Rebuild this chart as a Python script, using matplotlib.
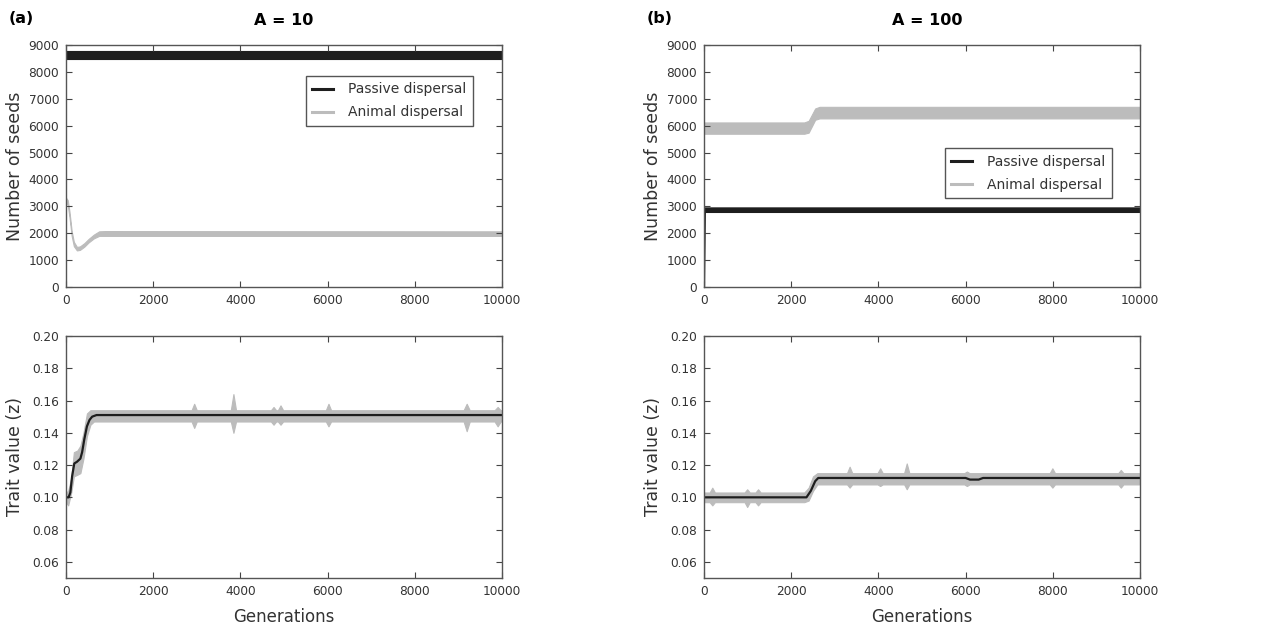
import matplotlib
matplotlib.use('Agg')
import matplotlib.pyplot as plt
from matplotlib.lines import Line2D

# %% Data (noise shown as lo/hi envelopes)
BLACK = '#1e1e1e'
GREY = '#bcbcbc'

# A = 10, number of seeds
seed_pas_a_gen = [0, 10000]
seed_pas_a_lo = [8470, 8470]
seed_pas_a_hi = [8780, 8780]

seed_ani_a_gen = [0, 40, 80, 130, 180, 250, 320, 420, 520, 640, 760, 900, 10000]
seed_ani_a_lo = [3150, 3050, 2600, 1900, 1520, 1360, 1380, 1500, 1660, 1810, 1900, 1900, 1900]
seed_ani_a_hi = [3320, 3230, 2800, 2080, 1680, 1490, 1510, 1630, 1790, 1950, 2070, 2080, 2070]

# A = 100, number of seeds
seed_pas_b_gen = [0, 10, 10000]
seed_pas_b_lo = [0, 2790, 2790]
seed_pas_b_hi = [0, 2960, 2960]

seed_ani_b_gen = [0, 2300, 2400, 2550, 2650, 10000]
seed_ani_b_lo = [5700, 5700, 5740, 6220, 6270, 6270]
seed_ani_b_hi = [6120, 6120, 6180, 6640, 6700, 6700]

# A = 10, trait value
trait_pas_a_gen = [0, 60, 100, 140, 190, 250, 330, 370, 420, 480, 540, 600, 700, 800, 10000]
trait_pas_a = [0.100, 0.100, 0.103, 0.113, 0.121, 0.122, 0.124, 0.128, 0.136, 0.144,
               0.148, 0.150, 0.151, 0.151, 0.151]

trait_ani_a_gen = [0, 50, 120, 180, 260, 330, 400, 480, 560, 640,
                   2880, 2940, 3000, 3780, 3840, 3900, 4700, 4760, 4820,
                   4860, 4920, 4980, 5960, 6020, 6080, 9120, 9190, 9260,
                   9830, 9900, 9970, 10000]
trait_ani_a_lo = [0.097, 0.095, 0.103, 0.113, 0.114, 0.115, 0.124, 0.138, 0.145, 0.147,
                  0.147, 0.143, 0.147, 0.147, 0.140, 0.147, 0.147, 0.145, 0.147,
                  0.147, 0.145, 0.147, 0.147, 0.144, 0.147, 0.147, 0.141, 0.147,
                  0.147, 0.144, 0.147, 0.147]
trait_ani_a_hi = [0.103, 0.104, 0.112, 0.128, 0.129, 0.132, 0.140, 0.152, 0.154, 0.154,
                  0.154, 0.158, 0.154, 0.154, 0.164, 0.154, 0.154, 0.156, 0.154,
                  0.154, 0.157, 0.154, 0.154, 0.158, 0.154, 0.154, 0.158, 0.154,
                  0.154, 0.156, 0.154, 0.154]

# A = 100, trait value
trait_pas_b_gen = [0, 2350, 2450, 2550, 2620, 6000, 6100, 6300, 6400, 10000]
trait_pas_b = [0.100, 0.100, 0.104, 0.110, 0.112, 0.112, 0.111, 0.111, 0.112, 0.112]

trait_ani_b_gen = [0, 130, 190, 250, 930, 990, 1050, 1180, 1240, 1300,
                   2300, 2400, 2500, 2600, 3280, 3340, 3400, 3980, 4040, 4100,
                   4590, 4650, 4710, 5970, 6030, 6090, 7930, 7990, 8050,
                   9500, 9560, 9620, 10000]
trait_ani_b_lo = [0.097, 0.097, 0.095, 0.097, 0.097, 0.094, 0.097, 0.097, 0.095, 0.097,
                  0.097, 0.098, 0.104, 0.108, 0.108, 0.106, 0.108, 0.108, 0.107, 0.108,
                  0.108, 0.105, 0.108, 0.108, 0.107, 0.108, 0.108, 0.106, 0.108,
                  0.108, 0.106, 0.108, 0.108]
trait_ani_b_hi = [0.103, 0.103, 0.106, 0.103, 0.103, 0.105, 0.103, 0.103, 0.105, 0.103,
                  0.103, 0.106, 0.113, 0.115, 0.115, 0.119, 0.115, 0.115, 0.118, 0.115,
                  0.115, 0.121, 0.115, 0.115, 0.116, 0.115, 0.115, 0.118, 0.115,
                  0.115, 0.117, 0.115, 0.115]

SEED_TICKS = list(range(0, 9001, 1000))
TRAIT_TICKS = [0.06, 0.08, 0.10, 0.12, 0.14, 0.16, 0.18, 0.20]
GEN_TICKS = list(range(0, 10001, 2000))

# %% Figure
fig = plt.figure(figsize=(12.61, 6.28), dpi=100)

L_X, R_X, W = 66 / 1261, 704 / 1261, 436 / 1261
TOP_Y, BOT_Y, H = 1 - 287 / 628, 1 - 578 / 628, 242 / 628

ax_sa = fig.add_axes([L_X, TOP_Y, W, H])
ax_sb = fig.add_axes([R_X, TOP_Y, W, H])
ax_ta = fig.add_axes([L_X, BOT_Y, W, H])
ax_tb = fig.add_axes([R_X, BOT_Y, W, H])


def band(ax, gen, lo, hi, color):
    ax.fill_between(gen, lo, hi, color=color, linewidth=0.8, edgecolor=color)


def style(ax, ticks, ylim, fmt):
    ax.set_xlim(0, 10000)
    ax.set_ylim(*ylim)
    ax.set_xticks(GEN_TICKS)
    ax.set_yticks(ticks)
    ax.set_yticklabels([fmt(t) for t in ticks])
    ax.tick_params(direction='in', top=True, right=True, length=4, width=0.8,
                   labelsize=8.7, colors='#444444', labelcolor='#333333', pad=5)
    for s in ax.spines.values():
        s.set_color('#555555')
        s.set_linewidth(1.0)


band(ax_sa, seed_pas_a_gen, seed_pas_a_lo, seed_pas_a_hi, BLACK)
band(ax_sa, seed_ani_a_gen, seed_ani_a_lo, seed_ani_a_hi, GREY)
band(ax_sb, seed_ani_b_gen, seed_ani_b_lo, seed_ani_b_hi, GREY)
band(ax_sb, seed_pas_b_gen, seed_pas_b_lo, seed_pas_b_hi, BLACK)

band(ax_ta, trait_ani_a_gen, trait_ani_a_lo, trait_ani_a_hi, GREY)
ax_ta.plot(trait_pas_a_gen, trait_pas_a, color=BLACK, lw=1.6)
band(ax_tb, trait_ani_b_gen, trait_ani_b_lo, trait_ani_b_hi, GREY)
ax_tb.plot(trait_pas_b_gen, trait_pas_b, color=BLACK, lw=1.6)

for ax in (ax_sa, ax_sb):
    style(ax, SEED_TICKS, (0, 9000), lambda t: f'{t:d}')
    ax.set_ylabel('Number of seeds', fontsize=12.5, color='#333333')
for ax in (ax_ta, ax_tb):
    style(ax, TRAIT_TICKS, (0.05, 0.20), lambda t: f'{t:.2f}')
    ax.set_ylabel('Trait value (z)', fontsize=12.5, color='#333333')
    ax.set_xlabel('Generations', fontsize=12, color='#333333')
    ax.xaxis.set_label_coords(0.5, -0.122)

for ax in (ax_sa, ax_ta, ax_sb, ax_tb):
    ax.yaxis.set_label_coords(-0.096, 0.5)

handles = [Line2D([], [], color=BLACK, lw=2.2), Line2D([], [], color=GREY, lw=2.2)]
labels = ['Passive dispersal', 'Animal dispersal']
for ax, anchor in ((ax_sa, (0.933, 0.871)), (ax_sb, (0.935, 0.573))):
    leg = ax.legend(handles, labels, loc='upper right', bbox_to_anchor=anchor,
                    fontsize=10, fancybox=False, framealpha=1, borderpad=0.45,
                    handlelength=1.5, handletextpad=1.1, labelspacing=0.65,
                    borderaxespad=0)
    leg.get_frame().set_edgecolor('#555555')
    leg.get_frame().set_linewidth(1.0)
    for t in leg.get_texts():
        t.set_color('#333333')

fig.text(0.007, 0.97, '(a)', fontsize=11.5, fontweight='bold', va='center')
fig.text(0.225, 0.968, 'A = 10', fontsize=11.5, fontweight='bold', ha='center', va='center')
fig.text(0.513, 0.97, '(b)', fontsize=11.5, fontweight='bold', va='center')
fig.text(0.735, 0.968, 'A = 100', fontsize=11.5, fontweight='bold', ha='center', va='center')

fig.savefig('out.png', dpi=100)
